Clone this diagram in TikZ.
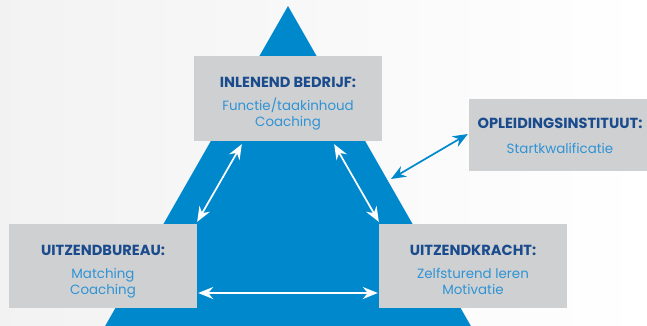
\documentclass[tikz,border=0pt]{standalone}
\usepackage{fontspec}
\setmainfont{Poppins}
\usetikzlibrary{arrows.meta,calc}
\definecolor{triblue}{HTML}{0088CC}
\definecolor{boxgray}{HTML}{CFD0D2}
\definecolor{headblue}{HTML}{1A4B8C}
\definecolor{textblue}{HTML}{2F93D4}
\tikzset{
  infobox/.style={fill=boxgray, draw=none, inner sep=0pt},
  infotext/.style={inner sep=0pt, align=center, anchor=base,
    font=\fontsize{13.4pt}{16pt}\selectfont, text=textblue},
  bigtip/.tip={Stealth[length=15pt,width=12pt,inset=5pt]},
  link/.style={draw=white, line width=1.7pt, {bigtip}-{bigtip}},
  bluelink/.style={draw=triblue, line width=1.7pt, {bigtip}-{bigtip}}
}
\newcommand{\hd}[1]{{\fontsize{14.6pt}{16pt}\selectfont\bfseries\color{headblue}#1}}
\begin{document}
\begin{tikzpicture}[x=1pt,y=-1pt]
  % page and background
  \useasboundingbox (0,0) rectangle (647,325);
  \shade[left color=black!5, right color=white] (0,0) rectangle (647,325);
  % triangle
  \begin{scope}
    \clip (0,0) rectangle (647,325);
    \fill[triblue] (288,6) -- (480,342) -- (96,342) -- cycle;
  \end{scope}
  % boxes
  \node[infobox, minimum width=188pt, minimum height=85pt] (bedrijf) at (288,98.5) {};
  \node[infobox, minimum width=178pt, minimum height=72pt] (instituut) at (558,135) {};
  \node[infobox, minimum width=188pt, minimum height=84pt] (bureau) at (103,266) {};
  \node[infobox, minimum width=188pt, minimum height=84pt] (kracht) at (473,266) {};
  % box texts, placed on the baseline of their last line
  \node[infotext] (bedrijf-t) at (288,126)
    {\hd{INLENEND BEDRIJF:}\\[7pt] Functie/taakinhoud\\ Coaching};
  \node[infotext] (instituut-t) at (560,153)
    {\hd{OPLEIDINGSINSTITUUT:}\\[9pt] Startkwalificatie};
  \node[infotext] (bureau-t) at (103,294)
    {\hd{UITZENDBUREAU:}\\[7pt] Matching\\ Coaching};
  \node[infotext] (kracht-t) at (473,294)
    {\hd{UITZENDKRACHT:}\\[7pt] Zelfsturend leren\\ Motivatie};
  % connector end points on the box borders
  \coordinate (b1) at ($(bedrijf.south west)+(48,3)$);
  \coordinate (b2) at ($(bedrijf.south east)+(-48,3)$);
  \coordinate (u1) at ($(bureau.north east)+(0,-2)$);
  \coordinate (u2) at ($(bureau.east)+(1,27)$);
  \coordinate (k1) at ($(kracht.north west)+(0,-2)$);
  \coordinate (k2) at ($(kracht.west)+(-1,27)$);
  \coordinate (i1) at ($(instituut.west)+(-1,-1)$);
  \coordinate (t1) at (391,179);
  % connectors
  \draw[link] (b1) -- (u1);
  \draw[link] (b2) -- (k1);
  \draw[link] (u2) -- (k2);
  \draw[bluelink] (i1) -- (t1);
\end{tikzpicture}
\end{document}
